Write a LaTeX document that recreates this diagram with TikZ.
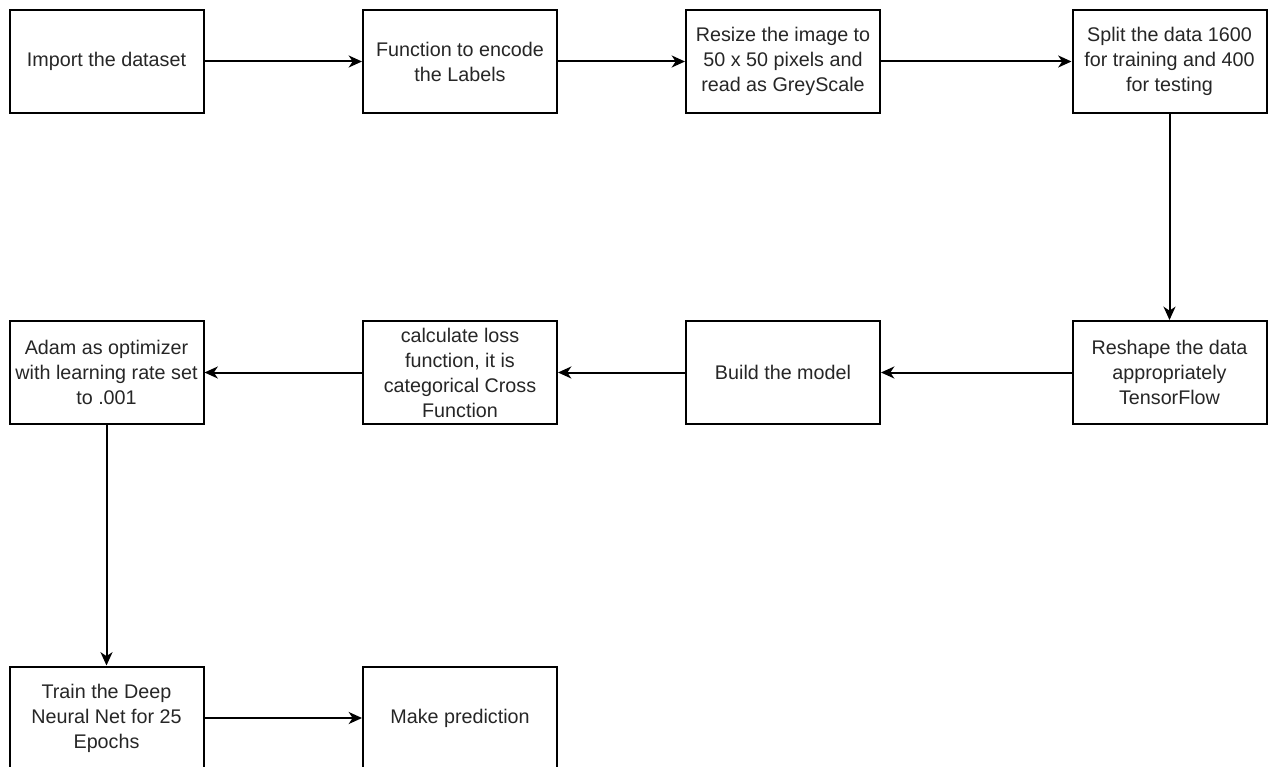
\documentclass[tikz,border=0pt]{standalone}
\usepackage{fontspec}
\setmainfont{Liberation Sans}
\usetikzlibrary{arrows.meta}
\begin{document}
\begin{tikzpicture}[x=0.75pt,y=-0.75pt,
  stepbox/.style={draw=black,line width=1.5pt,fill=white,minimum width=145.5pt,minimum height=77.25pt,
    inner sep=2pt,align=center,text=black!85,font=\fontsize{14.8pt}{18.75pt}\selectfont},
  flow/.style={line width=1.5pt,-{Stealth[length=10pt,width=9pt,inset=3pt]}}]
\useasboundingbox (0,0) rectangle (1271,767);
\clip (0,0) rectangle (1271,767);
\fill[white] (0,0) rectangle (1271,767);
\node[stepbox] (a1) at (106.5,61.5) {Import the dataset};
\node[stepbox] (a2) at (460,61.5) {Function to encode\\the Labels};
\node[stepbox] (a3) at (783,61.5) {Resize the image to\\50 x 50 pixels and\\read as GreyScale};
\node[stepbox] (a4) at (1169.5,61.5) {Split the data 1600\\for training and 400\\for testing};
\node[stepbox] (a5) at (1169.5,372.5) {Reshape the data\\appropriately\\TensorFlow};
\node[stepbox] (a6) at (783,372.5) {Build the model};
\node[stepbox] (a7) at (460,372.5) {calculate loss\\function, it is\\categorical Cross\\Function};
\node[stepbox] (a8) at (106.5,372.5) {Adam as optimizer\\with learning rate set\\to .001};
\node[stepbox] (a9) at (106.5,718) {Train the Deep\\Neural Net for 25\\Epochs};
\node[stepbox] (a10) at (460,718) {Make prediction};
\draw[flow] (a1) -- (a2);
\draw[flow] (a2) -- (a3);
\draw[flow] (a3) -- (a4);
\draw[flow] (a4) -- (a5);
\draw[flow] (a5) -- (a6);
\draw[flow] (a6) -- (a7);
\draw[flow] (a7) -- (a8);
\draw[flow] (a8) -- (a9);
\draw[flow] (a9) -- (a10);
\end{tikzpicture}
\end{document}
